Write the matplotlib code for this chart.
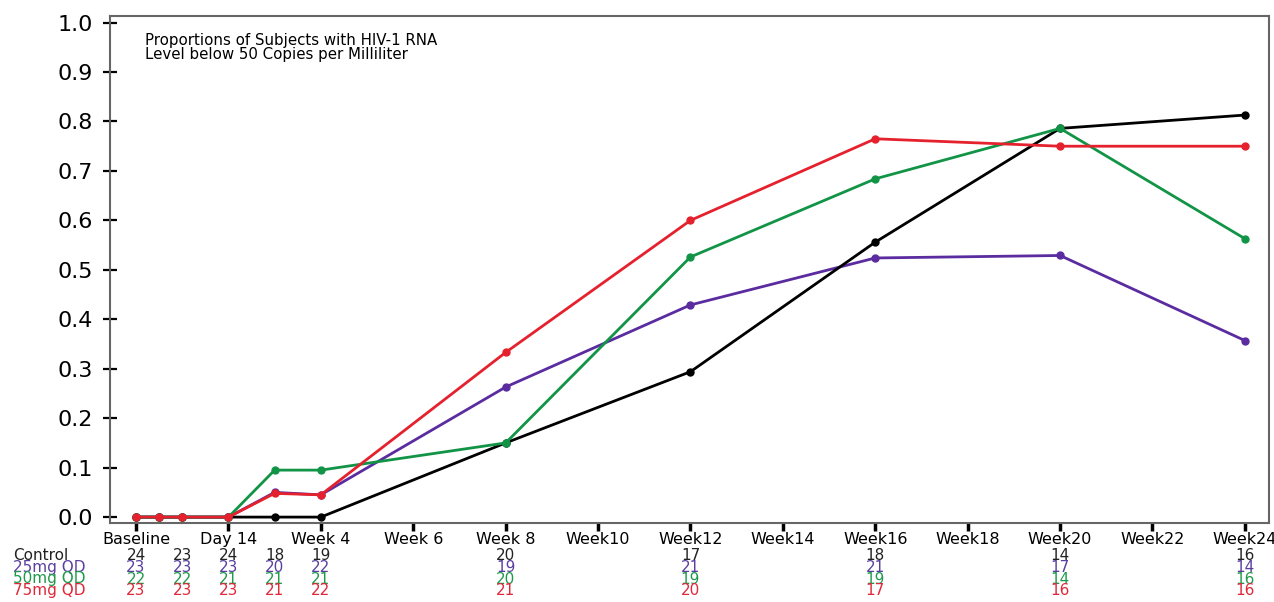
import matplotlib
matplotlib.use("Agg")
import matplotlib.pyplot as plt

# visit times in weeks (Baseline, Day 4, Week 1, Day 14, Week 3, Week 4, ...)
weeks = [0, 0.5, 1, 2, 3, 4, 8, 12, 16, 20, 24]

control = [0, 0, 0, 0, 0, 0, 0.150, 0.294, 0.556, 0.786, 0.813]
qd25 = [0, 0, 0, 0, 0.050, 0.045, 0.263, 0.429, 0.524, 0.529, 0.357]
qd50 = [0, 0, 0, 0, 0.095, 0.095, 0.150, 0.526, 0.684, 0.786, 0.563]
qd75 = [0, 0, 0, 0, 0.048, 0.045, 0.333, 0.600, 0.765, 0.750, 0.750]

tick_weeks = [0, 2, 4, 6, 8, 10, 12, 14, 16, 18, 20, 22, 24]
tick_labels = ["Baseline", "Day 14", "Week 4", "Week 6", "Week 8", "Week10",
               "Week12", "Week14", "Week16", "Week18", "Week20", "Week22", "Week24"]

# subjects at risk table
risk_weeks = [0, 1, 2, 3, 4, 8, 12, 16, 20, 24]
risk_names = ["Control", "25mg QD", "50mg QD", "75mg QD"]
risk_counts = [
    [24, 23, 24, 18, 19, 20, 17, 18, 14, 16],
    [23, 23, 23, 20, 22, 19, 21, 21, 17, 14],
    [22, 22, 21, 21, 21, 20, 19, 19, 14, 16],
    [23, 23, 23, 21, 22, 21, 20, 17, 16, 16],
]

c_black = "#000000"
c_purple = "#5a2ca0"
c_green = "#129447"
c_red = "#e5212e"
row_colors = ["#222222", "#5a3fa0", "#1e9a4a", "#e0283a"]

fig = plt.figure(figsize=(12.74, 6.02), dpi=100)
ax = fig.add_axes([0.0863, 0.132, 0.9097, 0.842])

lw = 2.0
ms = 5
ax.plot(weeks, qd25, color=c_purple, lw=lw, marker="o", ms=ms)
ax.plot(weeks, control, color=c_black, lw=lw, marker="o", ms=ms)
ax.plot(weeks, qd50, color=c_green, lw=lw, marker="o", ms=ms)
ax.plot(weeks, qd75, color=c_red, lw=lw, marker="o", ms=ms)

ax.set_xlim(-0.565, 24.52)
ax.set_ylim(-0.011, 1.014)
ax.set_yticks([i / 10 for i in range(11)])
ax.set_yticklabels([f"{i / 10:.1f}" for i in range(11)], fontsize=16)
ax.set_xticks(tick_weeks)
ax.set_xticklabels(tick_labels, fontsize=11.5)

for s in ax.spines.values():
    s.set_color("#666666")
    s.set_linewidth(1.5)

ax.tick_params(axis="y", direction="inout", length=10, width=1.6, pad=7)
ax.tick_params(axis="x", direction="out", length=6, width=2.5, pad=1)

ax.text(0.03, 0.965, "Proportions of Subjects with HIV-1 RNA\nLevel below 50 Copies per Milliliter",
        transform=ax.transAxes, fontsize=10.8, va="top", ha="left", linespacing=0.92)

# at-risk table below the axis
row_y = [556, 567.5, 579, 590.5]
for name, counts, col, py in zip(risk_names, risk_counts, row_colors, row_y):
    yf = 1 - py / 602
    fig.text(13 / 1274, yf, name, color=col, fontsize=11, ha="left", va="center")
    for w, n in zip(risk_weeks, counts):
        xd = ax.transData.transform((w, 0))[0]
        xf = fig.transFigure.inverted().transform((xd, 0))[0]
        fig.text(xf, yf, str(n), color=col, fontsize=11, ha="center", va="center")

fig.savefig("out.png", dpi=100)
